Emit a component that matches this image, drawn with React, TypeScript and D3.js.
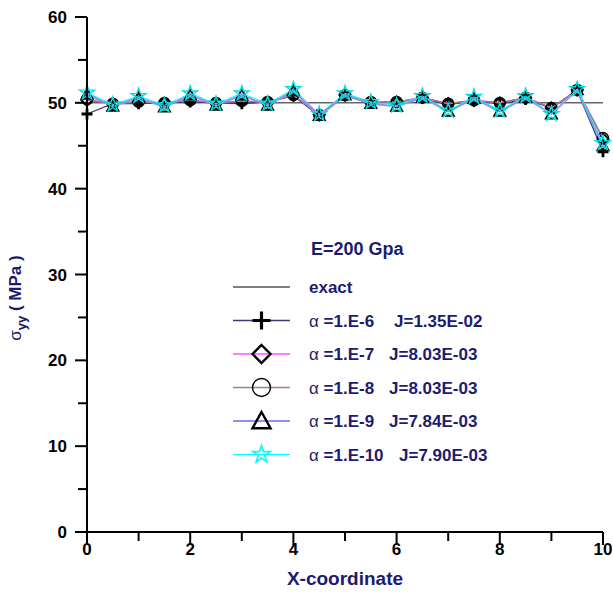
import React from "react";
import * as d3 from "d3";

const xValues = [0, 0.5, 1, 1.5, 2, 2.5, 3, 3.5, 4, 4.5, 5, 5.5, 6, 6.5, 7, 7.5, 8, 8.5, 9, 9.5, 10];
const exactValue = 50;
const s1 = [48.7, 49.9, 49.9, 50.0, 50.1, 50.0, 49.9, 50.1, 50.8, 48.5, 50.8, 50.0, 50.1, 50.5, 49.8, 50.2, 49.9, 50.4, 49.4, 51.4, 44.3];
const s2 = [50.3, 49.9, 50.1, 50.0, 50.3, 50.0, 50.2, 50.1, 50.9, 48.6, 50.9, 50.1, 50.1, 50.6, 49.9, 50.3, 50.0, 50.6, 49.4, 51.5, 45.8];
const s3 = [50.4, 49.9, 50.1, 50.0, 50.3, 50.0, 50.2, 50.1, 50.9, 48.6, 50.9, 50.1, 50.1, 50.6, 49.9, 50.3, 50.0, 50.6, 49.4, 51.5, 45.9];
const s4 = [51.0, 49.6, 50.6, 49.5, 50.9, 49.7, 50.9, 49.7, 51.4, 48.5, 50.9, 49.9, 49.6, 50.6, 49.0, 50.5, 49.0, 50.6, 48.7, 51.5, 45.0];
const s5 = [51.2, 49.8, 50.8, 49.7, 51.1, 49.9, 51.1, 49.9, 51.6, 48.7, 51.1, 50.1, 49.7, 50.8, 49.1, 50.7, 49.1, 50.8, 48.7, 51.6, 45.3];

const alphaLabels = ["=1.E-6", "=1.E-7", "=1.E-8", "=1.E-9", "=1.E-10"];
const jLabels = ["J=1.35E-02", "J=8.03E-03", "J=8.03E-03", "J=7.84E-03", "J=7.90E-03"];
const yTicks = [0, 10, 20, 30, 40, 50, 60];
const yMinor = [5, 15, 25, 35, 45, 55];
const xTicks = [0, 2, 4, 6, 8, 10];
const xMinor = [1, 3, 5, 7, 9];

const NAVY = "#1c1c6e";
const FONT = "'Liberation Sans', Arial, sans-serif";

type Series = { values: number[]; color: string; width: number; marker: string; mColor: string };
const series: Series[] = [
  { values: s1, color: "#3a3a7a", width: 1.3, marker: "plus", mColor: "#000" },
  { values: s2, color: "#ff00ff", width: 1.2, marker: "diamond", mColor: "#000" },
  { values: s3, color: "#a08080", width: 1.4, marker: "circle", mColor: "#000" },
  { values: s4, color: "#9090f0", width: 2, marker: "triangle", mColor: "#000" },
  { values: s5, color: "#00ffff", width: 1, marker: "star", mColor: "#00e0e0" },
];

function Marker({ type, x, y, s, color, sw }: { type: string; x: number; y: number; s: number; color: string; sw: number }) {
  const h = s / 2;
  if (type === "plus") {
    return <path d={`M${x - h},${y}H${x + h}M${x},${y - h}V${y + h}`} stroke={color} strokeWidth={sw + 0.8} fill="none" />;
  }
  if (type === "diamond") {
    return <path d={`M${x},${y - h}L${x + h},${y}L${x},${y + h}L${x - h},${y}Z`} stroke={color} strokeWidth={sw} fill="none" />;
  }
  if (type === "circle") {
    return <circle cx={x} cy={y} r={h} stroke={color} strokeWidth={sw * 0.7} fill="none" />;
  }
  if (type === "triangle") {
    return <path d={`M${x},${y - h}L${x + h},${y + h * 0.8}L${x - h},${y + h * 0.8}Z`} stroke={color} strokeWidth={sw} fill="none" strokeLinejoin="miter" />;
  }
  const star = d3.symbol().type(d3.symbolStar).size(s * s * 0.55)();
  return <path d={star as string} transform={`translate(${x},${y})`} stroke={color} strokeWidth={sw * 0.7} fill="none" />;
}

export default function App() {
  const W = 613, H = 594;
  const x = d3.scaleLinear().domain([0, 10]).range([87, 603]);
  const y = d3.scaleLinear().domain([0, 60]).range([532, 17]);
  const line = d3.line<number>().x((_, i) => x(xValues[i])).y((d) => y(d));

  const legX1 = 233, legX2 = 290, legText = 309;
  const rowY0 = 287, rowDy = 33.5;
  const jX = [394, 389, 389, 389, 399];

  return (
    <svg width={W} height={H} style={{ position: "absolute", left: 0, top: 0, background: "#fff" }} fontFamily={FONT}>
      <rect width={W} height={H} fill="#fff" />
      <line x1={x(0)} x2={x(10)} y1={y(exactValue)} y2={y(exactValue)} stroke="#666" strokeWidth={1.5} />
      {series.map((s, si) => (
        <g key={si}>
          <path d={line(s.values) as string} fill="none" stroke={s.color} strokeWidth={s.width} />
          {s.values.map((v, i) => (
            <Marker key={i} type={s.marker} x={x(xValues[i])} y={y(v)} s={11} color={s.mColor} sw={2} />
          ))}
        </g>
      ))}
      <line x1={x(0)} x2={x(0)} y1={y(60)} y2={y(0)} stroke="#000" strokeWidth={2} />
      <line x1={x(0)} x2={x(10)} y1={y(0)} y2={y(0)} stroke="#000" strokeWidth={2} />
      {yTicks.map((t) => (
        <g key={"y" + t}>
          <line x1={x(0) - 12} x2={x(0)} y1={y(t)} y2={y(t)} stroke="#000" strokeWidth={2} />
          <text x={67} y={y(t)} dy="0.36em" textAnchor="end" fontWeight="bold" fontSize={17}>{t}</text>
        </g>
      ))}
      {yMinor.map((t) => (
        <line key={"ym" + t} x1={x(0) - 9} x2={x(0)} y1={y(t)} y2={y(t)} stroke="#000" strokeWidth={2} />
      ))}
      {xTicks.map((t) => (
        <g key={"x" + t}>
          <line x1={x(t)} x2={x(t)} y1={y(0)} y2={y(0) + 13} stroke="#000" strokeWidth={2} />
          <text x={x(t)} y={555} textAnchor="middle" fontWeight="bold" fontSize={17}>{t}</text>
        </g>
      ))}
      {xMinor.map((t) => (
        <line key={"xm" + t} x1={x(t)} x2={x(t)} y1={y(0)} y2={y(0) + 9} stroke="#000" strokeWidth={2} />
      ))}
      <text x={345} y={585} textAnchor="middle" fontWeight="bold" fontSize={19} fill={NAVY}>X-coordinate</text>
      <text transform="translate(21,298) rotate(-90)" textAnchor="middle" fontSize={17} fill={NAVY}>
        <tspan>σ</tspan>
        <tspan fontSize={13} dy={5} fontWeight="bold">yy</tspan>
        <tspan dy={-5} fontWeight="bold">{" ( MPa )"}</tspan>
      </text>
      <text x={311} y={255} fontWeight="bold" fontSize={18} fill={NAVY}>E=200 Gpa</text>
      <line x1={legX1} x2={legX2} y1={rowY0} y2={rowY0} stroke="#000" strokeWidth={1} />
      <text x={legText} y={rowY0} dy="0.36em" fontWeight="bold" fontSize={17} fill={NAVY}>exact</text>
      {series.map((s, i) => {
        const ry = rowY0 + rowDy * (i + 1);
        return (
          <g key={"l" + i}>
            <line x1={legX1} x2={legX2} y1={ry} y2={ry} stroke={s.color} strokeWidth={s.width} />
            <Marker type={s.marker} x={(legX1 + legX2) / 2} y={ry} s={s.marker === "star" ? 13 : 18} color={s.marker === "star" ? "#00ffff" : "#000"} sw={s.marker === "circle" ? 2 : 2.4} />
            <text x={legText} y={ry} dy="0.36em" fontSize={17} fill={NAVY}>
              <tspan>α </tspan>
              <tspan fontWeight="bold">{alphaLabels[i]}</tspan>
            </text>
            <text x={jX[i]} y={ry} dy="0.36em" fontSize={17} fontWeight="bold" fill={NAVY}>{jLabels[i]}</text>
          </g>
        );
      })}
    </svg>
  );
}
